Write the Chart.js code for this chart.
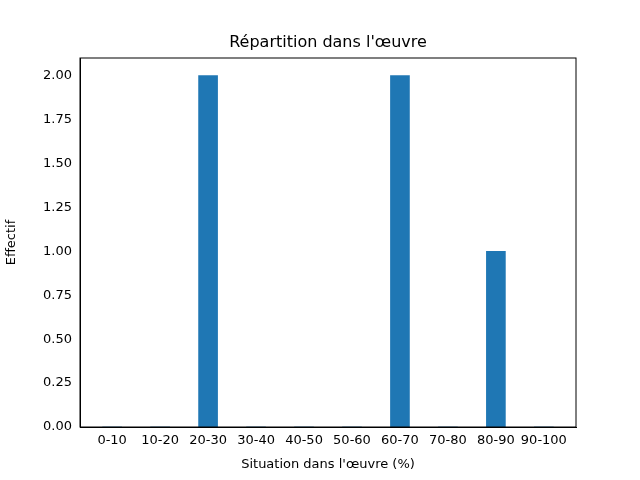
<!DOCTYPE html>
<html><head><meta charset="utf-8">
<script src="https://cdn.jsdelivr.net/npm/chart.js@4"></script>
<style>html,body{margin:0;background:#fff}#w{width:640px;height:480px}</style>
</head><body><div id="w"><canvas id="c"></canvas></div>
<script>
const categories=["0-10","10-20","20-30","30-40","40-50","50-60","60-70","70-80","80-90","90-100"];
const values=[0,0,2,0,0,0,2,0,1,0];
const yTicks=[0,0.25,0.5,0.75,1,1.25,1.5,1.75,2];
const font={family:"DejaVu Sans",size:13};
new Chart(document.getElementById('c'),{
type:'bar',
data:{datasets:[{data:values.map((v,i)=>({x:i,y:v})),backgroundColor:'#1f77b4',barThickness:19,borderWidth:0}]},
options:{responsive:true,maintainAspectRatio:false,animation:false,
layout:{padding:{left:0,right:64,top:58,bottom:0}},
plugins:{legend:{display:false},tooltip:{enabled:false},title:{display:false}},
scales:{
x:{type:'linear',min:-0.67,max:9.67,offset:false,
afterBuildTicks:s=>{s.ticks=categories.map((c,i)=>({value:i}));},
afterFit:s=>{s.height=53;},
ticks:{callback:v=>categories[v],color:'#000',font,maxRotation:0,autoSkip:false,padding:2},
grid:{display:false,drawTicks:true,tickLength:4,tickColor:'#000'},border:{color:'#000'},
title:{display:true,text:"Situation dans l'œuvre (%)",color:'#000',font,padding:{top:4,bottom:8}}},
y:{min:0,max:2.1,
afterBuildTicks:s=>{s.ticks=yTicks.map(v=>({value:v}));},
afterFit:s=>{s.width=80;},
ticks:{callback:v=>v.toFixed(2),color:'#000',font,padding:4},
grid:{display:false,drawTicks:true,tickLength:4,tickColor:'#000'},border:{color:'#000'},
title:{display:true,text:"Effectif",color:'#000',font,padding:{top:4,bottom:4}}}
}},
plugins:[{id:'frame',afterDraw(ch){const a=ch.chartArea,x=ch.ctx;x.save();x.strokeStyle='#000';x.lineWidth=1;x.strokeRect(a.left,a.top,a.right-a.left,a.bottom-a.top);
x.fillStyle='#000';x.font='16px "DejaVu Sans"';x.textAlign='center';x.textBaseline='middle';x.fillText("Répartition dans l'œuvre",(a.left+a.right)/2,43);x.restore();}}]
});
</script></body></html>
